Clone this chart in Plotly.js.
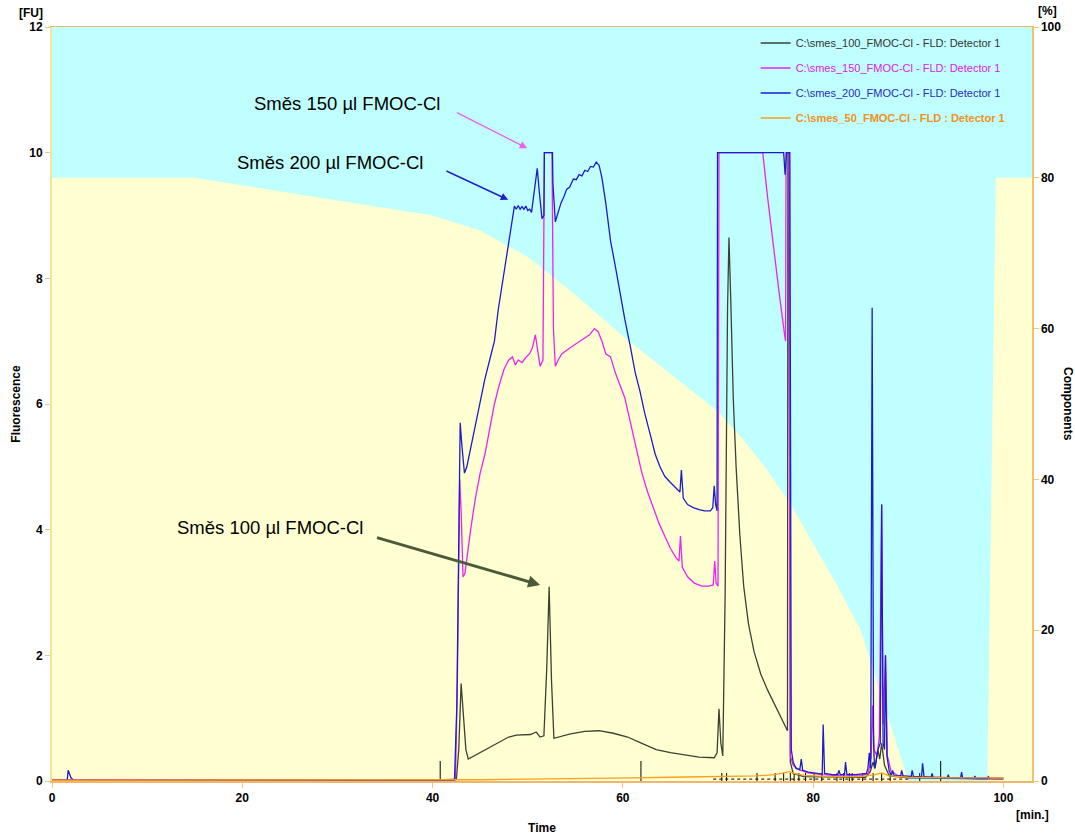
<!DOCTYPE html>
<html>
<head>
<meta charset="utf-8">
<script src="https://cdn.plot.ly/plotly-3.0.1.min.js"></script>
<style>html,body{margin:0;padding:0;background:#fff;}#chart{width:1075px;height:835px;}</style>
</head>
<body>
<div id="chart"></div>
<script>
// ---- Gradient profile (Components, %) ----
const gradTime = [0, 15, 40, 45, 50, 55, 60, 65, 70, 72.5, 75, 77.5, 80, 82.5, 85, 90.0, 98.3, 99.2, 103.5];
const gradPct  = [80, 80, 75, 73, 69.5, 64.5, 59, 54, 49, 45.5, 41.5, 37, 31.5, 26, 20, 0, 0, 80, 80];

// ---- Chromatograms: [time (min), fluorescence (FU)] ----
const smes100 = [[0,0.015],[40,0.015],[42.5,0.03],[42.75,0.5],[43.0,1.55],[43.2,1.1],[43.5,0.5],[43.75,0.35],[45,0.45],[46.5,0.58],[48,0.7],[48.8,0.73],[50.3,0.74],[50.9,0.78],[51.3,0.7],[51.7,0.72],[52.0,1.8],[52.25,3.09],[52.5,1.6],[52.75,0.68],[53.2,0.7],[54.5,0.75],[56,0.79],[57.5,0.8],[59,0.76],[60.5,0.7],[62,0.6],[63.5,0.5],[65,0.45],[66.5,0.41],[68,0.38],[69.6,0.37],[69.9,0.45],[70.1,1.15],[70.3,0.6],[70.5,0.4],[70.75,3.0],[71.0,7.5],[71.15,8.65],[71.35,7.6],[71.6,6.1],[71.9,5.0],[72.3,3.9],[72.7,3.1],[73.2,2.5],[73.8,2.05],[74.5,1.7],[75.2,1.45],[76,1.2],[76.7,1.0],[77.2,0.85],[77.3,0.8],[77.35,10],[77.45,10],[77.6,0.3],[77.9,0.12],[79,0.07],[82,0.06],[85.5,0.06],[86.0,0.15],[86.3,0.3],[86.5,0.2],[86.8,0.5],[87.0,0.35],[87.2,0.6],[87.5,0.25],[88,0.08],[90,0.05],[95,0.04],[100,0.03]];

const smes150 = [[0,0.02],[42.4,0.02],[42.6,1.5],[42.85,4.8],[43.0,4.3],[43.2,3.25],[43.4,3.3],[43.7,3.7],[44.0,4.0],[44.5,4.5],[45,4.9],[45.5,5.2],[46,5.6],[46.5,6.0],[47,6.3],[47.5,6.55],[48,6.7],[48.4,6.75],[48.7,6.62],[49,6.7],[49.4,6.66],[49.8,6.74],[50.2,6.8],[50.5,6.9],[50.8,7.1],[51.0,6.9],[51.3,6.6],[51.6,6.7],[51.75,10],[52.55,10],[52.7,7.2],[52.9,6.6],[53.2,6.7],[53.6,6.8],[54,6.85],[54.5,6.9],[55,6.95],[55.5,7.0],[56,7.05],[56.5,7.1],[57,7.2],[57.4,7.15],[57.8,7.0],[58.2,6.8],[58.7,6.75],[59.2,6.5],[59.7,6.3],[60.2,6.1],[60.8,5.7],[61.4,5.3],[62,4.9],[62.6,4.6],[63.2,4.35],[63.8,4.1],[64.4,3.9],[65,3.7],[65.6,3.55],[65.9,3.5],[66.05,3.9],[66.25,3.4],[66.8,3.25],[67.5,3.15],[68.3,3.1],[69.0,3.1],[69.5,3.12],[69.65,3.5],[69.8,3.15],[70.0,3.1],[70.1,10],[74.7,10],[75.2,9.3],[75.8,8.5],[76.4,7.8],[77.0,7.1],[77.1,7.0],[77.15,10],[77.45,10],[77.6,0.4],[77.9,0.25],[78.5,0.18],[79.5,0.13],[81,0.1],[83,0.08],[85,0.08],[85.8,0.12],[86.1,0.4],[86.25,1.2],[86.4,0.5],[86.7,0.4],[86.95,0.7],[87.2,4.4],[87.35,0.9],[87.6,2.0],[87.8,0.4],[88.2,0.15],[89,0.08],[92,0.06],[96,0.05],[100,0.05]];

const smes200 = [[0,0.01],[1.6,0.01],[1.7,0.17],[1.8,0.12],[2.0,0.05],[2.3,0.01],[42.3,0.01],[42.55,1.2],[42.75,4.5],[42.9,5.7],[43.1,5.3],[43.35,4.9],[43.6,5.0],[44.0,5.3],[44.5,5.7],[45.0,6.05],[45.5,6.4],[46.0,6.7],[46.5,7.0],[46.9,7.5],[47.3,7.9],[47.6,8.15],[48.0,8.6],[48.4,9.0],[48.6,9.15],[48.8,9.1],[49.0,9.16],[49.2,9.1],[49.4,9.14],[49.6,9.1],[49.8,9.15],[50.0,9.08],[50.2,9.1],[50.4,9.05],[50.6,9.3],[50.8,9.6],[51.0,9.75],[51.2,9.4],[51.5,8.95],[51.7,9.0],[51.75,10],[52.6,10],[52.65,9.5],[52.9,8.9],[53.2,9.05],[53.5,9.2],[53.8,9.3],[54.1,9.42],[54.4,9.45],[54.8,9.58],[55.1,9.57],[55.4,9.65],[55.7,9.63],[56.0,9.72],[56.3,9.7],[56.6,9.78],[56.9,9.77],[57.2,9.85],[57.5,9.8],[57.8,9.6],[58.2,9.2],[58.7,8.6],[59.2,8.2],[59.7,7.75],[60.2,7.35],[60.8,6.9],[61.3,6.5],[61.8,6.2],[62.3,5.85],[62.9,5.5],[63.4,5.2],[63.9,5.0],[64.4,4.85],[65.0,4.75],[65.6,4.65],[66.0,4.6],[66.15,4.95],[66.35,4.5],[66.8,4.4],[67.4,4.35],[68.0,4.32],[68.6,4.3],[69.2,4.3],[69.45,4.35],[69.6,4.7],[69.75,4.4],[69.9,4.3],[69.95,10],[76.9,10],[77.05,9.65],[77.2,10],[77.55,10],[77.7,0.5],[77.9,0.3],[78.2,0.2],[78.6,0.18],[78.75,0.35],[78.9,0.17],[79.5,0.14],[80.2,0.12],[80.95,0.11],[81.05,0.9],[81.2,0.12],[82.0,0.1],[82.6,0.1],[82.7,0.17],[82.85,0.1],[83.3,0.1],[83.4,0.3],[83.55,0.1],[84.5,0.1],[85.6,0.12],[85.75,0.2],[85.9,0.45],[86.05,0.2],[86.2,7.53],[86.35,0.6],[86.45,0.2],[86.6,0.3],[86.8,0.5],[87.05,0.6],[87.2,4.4],[87.35,0.6],[87.5,0.5],[87.6,2.0],[87.75,0.4],[88.0,0.15],[88.25,0.1],[88.35,0.17],[88.5,0.09],[89.2,0.08],[89.3,0.17],[89.45,0.08],[90.3,0.07],[90.4,0.17],[90.55,0.07],[91.4,0.07],[91.5,0.28],[91.65,0.07],[92.4,0.06],[92.5,0.12],[92.6,0.06],[94.1,0.05],[94.2,0.1],[94.3,0.05],[95.5,0.05],[95.6,0.14],[95.7,0.05],[96.9,0.04],[97.0,0.08],[97.1,0.04],[98.3,0.04],[98.4,0.07],[98.6,0.04]];

const smes50 = [[0,0.012],[20,0.012],[40,0.015],[45,0.02],[50,0.03],[55,0.035],[58,0.04],[61,0.05],[65,0.06],[70,0.07],[74,0.08],[76,0.1],[77,0.13],[77.5,0.15],[78,0.12],[79,0.09],[82,0.07],[85,0.07],[86.5,0.1],[87.2,0.13],[88,0.08],[90,0.06],[95,0.05],[100,0.05]];

// integration marks (min)
const markTall = [40.8, 61.9, 93.4];
const markSmall = [70.4, 70.9, 74.1, 76.0, 76.9, 77.6, 78.0, 78.5, 79.2, 80.1, 80.9, 82.5, 83.2, 83.8, 84.1, 85.2, 86.3, 87.2, 88.1, 91.2];
const dotBaseT = [69.5, 90];

// tick labels
const xTicks = [0, 20, 40, 60, 80, 100];
const fuTicks = [0, 2, 4, 6, 8, 10, 12];
const pctTicks = [0, 20, 40, 60, 80, 100];

const names = {
  s100: 'C:\\smes_100_FMOC-Cl - FLD: Detector 1',
  s150: 'C:\\smes_150_FMOC-Cl - FLD: Detector 1',
  s200: 'C:\\smes_200_FMOC-Cl - FLD: Detector 1',
  s50:  'C:\\smes_50_FMOC-Cl - FLD : Detector 1'
};
const colors = {s100:'#3b4232', s150:'#ee22ee', s200:'#1c1ccc', s50:'#f4a020'};
const legendColors = {s100:'#333333', s150:'#e020e0', s200:'#2a2ac0', s50:'#f09020'};

const FONT = 'Liberation Sans, Arial, Helvetica, sans-serif';
const xs = a => a.map(p => p[0]);
const ys = a => a.map(p => p[1]);

function series(key, data, bold) {
  const label = bold ? '<b>' + names[key] + '</b>' : names[key];
  return {
    x: xs(data), y: ys(data), type: 'scatter', mode: 'lines', xaxis: 'x', yaxis: 'y2',
    line: {color: colors[key], width: 1.3},
    name: '<span style="color:' + legendColors[key] + '">' + label + '</span>',
    legendgroup: key, hoverinfo: 'x+y'
  };
}

const traces = [
  {x: gradTime, y: gradPct, type: 'scatter', mode: 'lines', xaxis: 'x', yaxis: 'y',
   fill: 'tozeroy', fillcolor: '#FFFFD2', line: {width: 0, color: '#FFFFD2'},
   showlegend: false, hoverinfo: 'skip'},
  {x: markTall, y: markTall.map(() => 0.14), type: 'scatter', mode: 'markers', xaxis: 'x', yaxis: 'y2',
   marker: {symbol: 'line-ns', size: 16, line: {color: '#000', width: 1}}, showlegend: false, hoverinfo: 'skip'},
  {x: markSmall, y: markSmall.map(() => 0.06), type: 'scatter', mode: 'markers', xaxis: 'x', yaxis: 'y2',
   marker: {symbol: 'line-ns', size: 6, line: {color: '#000', width: 1}}, showlegend: false, hoverinfo: 'skip'},
  {x: dotBaseT, y: dotBaseT.map(() => 0.03), type: 'scatter', mode: 'lines', xaxis: 'x', yaxis: 'y2',
   line: {color: '#000', width: 1, dash: 'dot'}, showlegend: false, hoverinfo: 'skip'},
  series('s100', smes100),
  series('s150', smes150),
  series('s200', smes200),
  series('s50', smes50, true)
];

const tickFont = {family: FONT, size: 12, color: '#000', weight: 'bold'};
const annFont = {family: FONT, size: 12, color: '#000'};
const labelFont = {family: FONT, size: 18.5, color: '#000'};

const layout = {
  width: 1075, height: 835,
  margin: {l: 52, r: 43, t: 27, b: 54},
  paper_bgcolor: '#ffffff', plot_bgcolor: '#C0FFFF',
  font: {family: FONT, color: '#000'},
  showlegend: true,
  legend: {x: 0.718, y: 0.998, xanchor: 'left', yanchor: 'top', bgcolor: 'rgba(0,0,0,0)',
           font: {family: FONT, size: 11}, traceorder: 'grouped', tracegroupgap: 6, itemwidth: 30},
  xaxis: {range: [0, 103], tickvals: xTicks, ticktext: xTicks.map(String), showgrid: false, zeroline: false,
          showline: true, linecolor: '#F2B66A', linewidth: 1.5, mirror: true,
          ticks: 'outside', ticklen: 5, tickcolor: '#EEC878', tickfont: tickFont,
          title: {text: 'Time', font: {family: FONT, size: 12, weight: 'bold'}, standoff: 20}},
  yaxis: {range: [0, 100], side: 'right', tickvals: pctTicks, ticktext: pctTicks.map(String),
          showgrid: false, zeroline: false, showline: true, linecolor: '#F2C070', linewidth: 1.5,
          ticks: 'outside', ticklen: 5, tickcolor: '#EEC878', tickfont: tickFont},
  yaxis2: {range: [0, 12], overlaying: 'y', side: 'left', tickvals: fuTicks, ticktext: fuTicks.map(String),
           showgrid: false, zeroline: false, showline: true, linecolor: '#F3E3A0', linewidth: 2,
           ticks: 'outside', ticklen: 5, tickcolor: '#EEC878', tickfont: tickFont,
           title: {text: 'Fluorescence', font: {family: FONT, size: 12, weight: 'bold'}, standoff: 6}},
  annotations: [
    {xref: 'paper', yref: 'paper', x: -0.021, y: 1.018, xanchor: 'center', yanchor: 'middle', text: '<b>[FU]</b>', showarrow: false, font: annFont},
    {xref: 'paper', yref: 'paper', x: 1.0163, y: 1.021, xanchor: 'center', yanchor: 'middle', text: '<b>[%]</b>', showarrow: false, font: annFont},
    {xref: 'paper', yref: 'paper', x: 1.001, y: -0.045, xanchor: 'center', yanchor: 'middle', text: '<b>[min.]</b>', showarrow: false, font: annFont},
    {xref: 'paper', yref: 'paper', x: 1.0367, y: 0.5, xanchor: 'center', yanchor: 'middle', text: '<b>Components</b>', showarrow: false, textangle: 90, font: annFont},
    {xref: 'x', yref: 'y2', x: 31.0, y: 10.79, xanchor: 'center', yanchor: 'middle', text: 'Směs 150 µl FMOC-Cl', showarrow: false, font: labelFont},
    {xref: 'x', yref: 'y2', x: 29.2, y: 9.85, xanchor: 'center', yanchor: 'middle', text: 'Směs 200 µl FMOC-Cl', showarrow: false, font: labelFont},
    {xref: 'x', yref: 'y2', x: 22.9, y: 4.04, xanchor: 'center', yanchor: 'middle', text: 'Směs 100 µl FMOC-Cl', showarrow: false, font: labelFont},
    {xref: 'x', yref: 'y2', axref: 'x', ayref: 'y2', x: 49.95, y: 10.07, ax: 42.4, ay: 10.65, text: '',
     showarrow: true, arrowhead: 2, arrowsize: 1, arrowwidth: 1.5, arrowcolor: '#F060F0', standoff: 0},
    {xref: 'x', yref: 'y2', axref: 'x', ayref: 'y2', x: 47.95, y: 9.25, ax: 41.3, ay: 9.72, text: '',
     showarrow: true, arrowhead: 2, arrowsize: 1, arrowwidth: 1.5, arrowcolor: '#2020D0', standoff: 0},
    {xref: 'x', yref: 'y2', axref: 'x', ayref: 'y2', x: 51.3, y: 3.12, ax: 34.0, ay: 3.88, text: '',
     showarrow: true, arrowhead: 2, arrowsize: 0.8, arrowwidth: 3, arrowcolor: '#4A5A3A', standoff: 0}
  ]
};

Plotly.newPlot('chart', traces, layout, {displayModeBar: false, staticPlot: true});
</script>
</body>
</html>
